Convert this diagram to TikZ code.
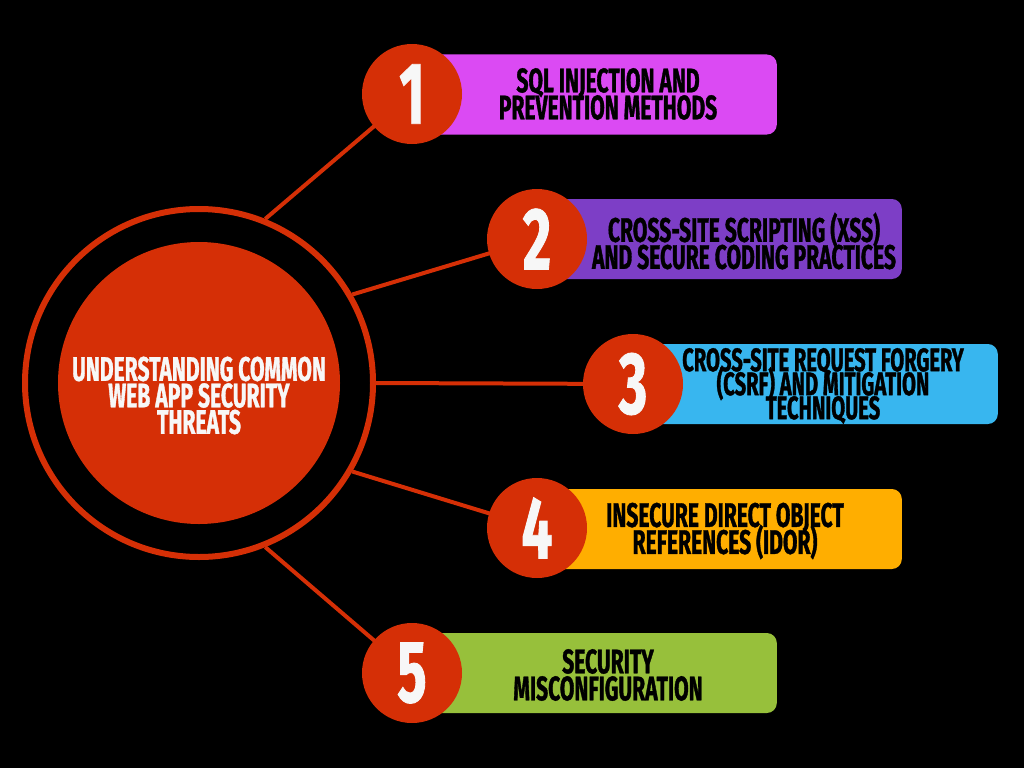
\documentclass[tikz,border=0pt]{standalone}
\usepackage{fontspec}
\newfontfamily\anton{Fira Sans}[FakeStretch=0.62,FakeBold=1]
\newcommand\tightlines{\lineskiplimit=-60pt\relax\lineskip=0pt\relax}
\newcommand\labfont{\anton\bfseries\fontsize{34}{27}\selectfont\tightlines}
\newcommand\hubfont{\anton\bfseries\fontsize{34}{26.5}\selectfont\tightlines}
\newcommand\threefont{\anton\bfseries\fontsize{32.5}{24}\selectfont\tightlines}
\definecolor{hubred}{HTML}{D52F06}
\definecolor{cmag}{HTML}{DB4AF3}
\definecolor{cpur}{HTML}{7D3EC6}
\definecolor{cblu}{HTML}{38B6EF}
\definecolor{camb}{HTML}{FFAE00}
\definecolor{cgrn}{HTML}{97C03B}
\definecolor{digit}{HTML}{F7F7F7}
\tikzset{
  labelbox/.style={rounded corners=10pt, minimum height=80pt, anchor=east, inner sep=0pt},
  numcircle/.style={circle, fill=hubred, minimum size=100pt, inner sep=0pt,
     text=digit, font=\anton\bfseries\fontsize{88}{88}\selectfont},
  connector/.style={draw=hubred, line width=4pt},
  labeltext/.style={align=center, text=black, inner sep=0pt, font=\labfont},
}
\begin{document}
\begin{tikzpicture}[x=1pt,y=-1pt]
\fill[black] (0,0) rectangle (1024,768);
\useasboundingbox (0,0) rectangle (1024,768);
% ring
\node[circle, draw=hubred, line width=6pt, minimum size=348pt, inner sep=0pt] (ring) at (199,383) {};
% number circle positions
\coordinate (p1) at (412,94);
\coordinate (p2) at (537,239);
\coordinate (p3) at (633,384);
\coordinate (p4) at (537,528);
\coordinate (p5) at (412,673);
% connectors
\draw[connector] (ring.68) -- (p1);
\draw[connector] (ring.30) -- (p2);
\draw[connector] (ring.0) -- (p3);
\draw[connector] (ring.-30) -- (p4);
\draw[connector] (ring.-68) -- (p5);
% boxes
\node[labelbox, fill=cmag, minimum width=365pt] (b1) at (777,94.5) {};
\node[labelbox, fill=cpur, minimum width=365pt] (b2) at (902,239) {};
\node[labelbox, fill=cblu, minimum width=365pt] (b3) at (998,384) {};
\node[labelbox, fill=camb, minimum width=365pt] (b4) at (902,529) {};
\node[labelbox, fill=cgrn, minimum width=365pt] (b5) at (777,673) {};
% number circles
\node[numcircle] (n1) at (p1) {1};
\node[numcircle] (n2) at (p2) {2};
\node[numcircle] (n3) at (p3) {3};
\node[numcircle] (n4) at (p4) {4};
\node[numcircle] (n5) at (p5) {5};
% hub
\node[circle, fill=hubred, minimum size=282pt, inner sep=0pt] (hub) at (199,383) {};
\node[labeltext, text=digit, font=\hubfont] (ht) at (199,395.5) {UNDERSTANDING COMMON\\WEB APP SECURITY\\THREATS};
% labels
\node[labeltext] (t1) at (608,94) {SQL INJECTION AND\\PREVENTION METHODS};
\node[labeltext] (t2) at (744,241) {CROSS-SITE SCRIPTING (XSS)\\AND SECURE CODING PRACTICES};
\node[labeltext, font=\threefont] (t3) at (823,386) {CROSS-SITE REQUEST FORGERY\\(CSRF) AND MITIGATION\\TECHNIQUES};
\node[labeltext] (t4) at (725,531) {INSECURE DIRECT OBJECT\\REFERENCES (IDOR)};
\node[labeltext] (t5) at (608,675) {SECURITY\\MISCONFIGURATION};
\end{tikzpicture}
\end{document}
